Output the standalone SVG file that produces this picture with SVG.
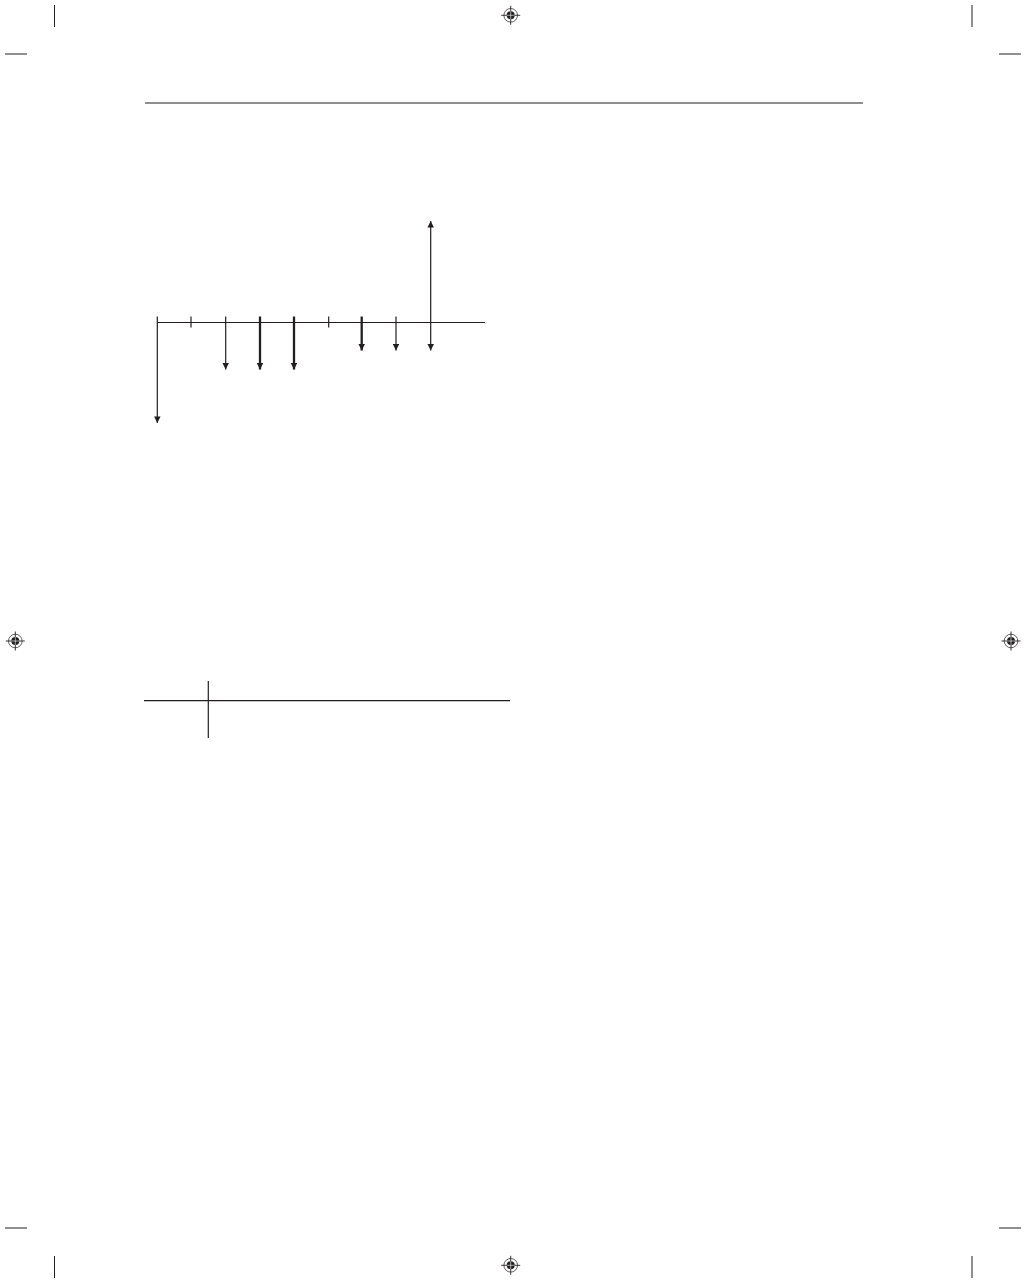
<svg xmlns="http://www.w3.org/2000/svg" width="1026" height="1283" viewBox="0 0 1026 1283">
<style>
.ln{stroke:#231f20;stroke-width:1.2;fill:none}
.thin{stroke:#231f20;stroke-width:1.2;fill:none}
.thick{stroke:#231f20;stroke-width:2.3;fill:none}
.crop{stroke:#231f20;stroke-width:1;fill:none}
</style>
<defs>
<marker id="ah" viewBox="0 0 10 10" refX="10" refY="5" markerUnits="userSpaceOnUse" markerWidth="9" markerHeight="6.5" orient="auto">
<path d="M0,0 L10,5 L0,10 z" fill="#231f20"/>
</marker>
<g id="reg">
<circle r="6.8" fill="none" stroke="#231f20" stroke-width="0.7"/>
<circle r="4" fill="#231f20"/>
<line x1="-9.5" y1="0" x2="9.5" y2="0" stroke="#231f20" stroke-width="0.9"/>
<line x1="0" y1="-9.5" x2="0" y2="9.5" stroke="#231f20" stroke-width="0.9"/>
<line x1="-4" y1="0" x2="4" y2="0" stroke="#fff" stroke-width="0.6"/>
<line x1="0" y1="-4" x2="0" y2="4" stroke="#fff" stroke-width="0.6"/>
</g>
</defs>
<rect width="1026" height="1283" fill="#fff"/>
<g id="printmarks">
<line class="crop" x1="54.5" y1="5" x2="54.5" y2="27"/>
<line class="crop" x1="5" y1="54" x2="27" y2="54"/>
<line class="crop" x1="972" y1="5" x2="972" y2="27"/>
<line class="crop" x1="999" y1="54" x2="1021" y2="54"/>
<line class="crop" x1="5" y1="1228" x2="27" y2="1228"/>
<line class="crop" x1="54.5" y1="1256" x2="54.5" y2="1278"/>
<line class="crop" x1="999" y1="1228" x2="1021" y2="1228"/>
<line class="crop" x1="972" y1="1256" x2="972" y2="1278"/>
<use href="#reg" x="510.7" y="15.3"/>
<use href="#reg" x="15.3" y="641"/>
<use href="#reg" x="1011" y="641"/>
<use href="#reg" x="510.7" y="1265.3"/>
</g>
<line id="header-rule" class="ln" x1="145" y1="103" x2="863" y2="103"/>
<g id="axis">
<line class="ln" x1="157.3" y1="322.5" x2="485" y2="322.5"/>
<line class="ln" x1="191" y1="316.5" x2="191" y2="327.5"/>
<line class="ln" x1="328.7" y1="316.5" x2="328.7" y2="327.5"/>
</g>
<g id="connectors">
<line class="thin" x1="157.3" y1="316.5" x2="157.3" y2="423" marker-end="url(#ah)"/>
<line class="thin" x1="225.7" y1="316.5" x2="225.7" y2="369.5" marker-end="url(#ah)"/>
<line class="thick" x1="260" y1="316.5" x2="260" y2="369.5" marker-end="url(#ah)"/>
<line class="thick" x1="294" y1="316.5" x2="294" y2="369.5" marker-end="url(#ah)"/>
<line class="thick" x1="361.7" y1="316.5" x2="361.7" y2="350.5" marker-end="url(#ah)"/>
<line class="thin" x1="396" y1="316.5" x2="396" y2="350.5" marker-end="url(#ah)"/>
<line class="thin" x1="430.7" y1="322.5" x2="430.7" y2="221" marker-end="url(#ah)"/>
<line class="thin" x1="430.7" y1="322.5" x2="430.7" y2="350.5" marker-end="url(#ah)"/>
</g>
<g id="table">
<line class="ln" x1="144" y1="700.7" x2="510" y2="700.7"/>
<line class="ln" x1="208.3" y1="681" x2="208.3" y2="738"/>
</g>
</svg>
